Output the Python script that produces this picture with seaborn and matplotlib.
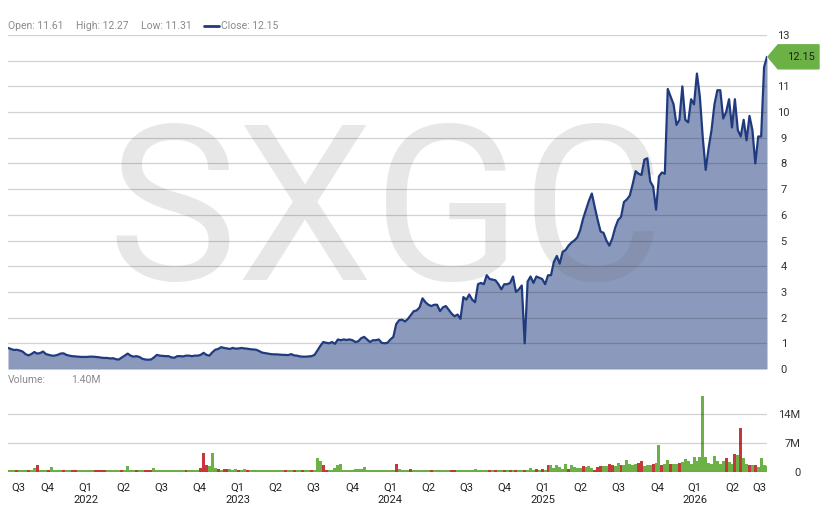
# -*- coding: utf-8 -*-
# SXGC - weekly close and volume

import numpy as np
import pandas as pd
import matplotlib.pyplot as plt
from matplotlib.lines import Line2D
from matplotlib.patches import Polygon
from matplotlib.transforms import ScaledTranslation
import seaborn as sns

# %% datos (semanal)
ticker_name = 'SXGC'
first_week = '2021-08-13'

close = [
    0.82, 0.78, 0.74, 0.75, 0.72, 0.68, 0.58, 0.53, 0.58, 0.66,
    0.60, 0.62, 0.68, 0.58, 0.55, 0.52, 0.52, 0.55, 0.60, 0.61,
    0.55, 0.52, 0.50, 0.49, 0.48, 0.47, 0.47, 0.47, 0.48, 0.48,
    0.47, 0.46, 0.44, 0.43, 0.43, 0.41, 0.42, 0.38, 0.37, 0.45,
    0.52, 0.60, 0.52, 0.48, 0.50, 0.47, 0.40, 0.37, 0.36, 0.37,
    0.45, 0.55, 0.52, 0.51, 0.50, 0.50, 0.45, 0.44, 0.50, 0.50,
    0.49, 0.52, 0.52, 0.50, 0.52, 0.52, 0.55, 0.63, 0.55, 0.52,
    0.65, 0.75, 0.78, 0.85, 0.82, 0.80, 0.78, 0.82, 0.79, 0.80,
    0.82, 0.80, 0.79, 0.77, 0.76, 0.75, 0.70, 0.64, 0.62, 0.60,
    0.58, 0.57, 0.57, 0.56, 0.55, 0.55, 0.54, 0.58, 0.53, 0.52,
    0.49, 0.48, 0.48, 0.49, 0.50, 0.55, 0.72, 0.90, 1.05, 1.02,
    1.00, 1.05, 0.98, 1.15, 1.12, 1.15, 1.13, 1.15, 1.12, 1.05,
    1.08, 1.20, 1.25, 1.15, 1.05, 1.12, 1.12, 1.15, 1.02, 1.00,
    1.02, 1.15, 1.25, 1.75, 1.90, 1.92, 1.85, 1.95, 2.10, 2.25,
    2.28, 2.40, 2.75, 2.60, 2.50, 2.45, 2.50, 2.50, 2.25, 2.40,
    2.45, 2.30, 2.15, 2.05, 2.12, 1.95, 2.80, 2.70, 2.90, 2.70,
    2.60, 3.30, 3.35, 3.30, 3.65, 3.50, 3.48, 3.45, 3.30, 3.10,
    3.30, 3.30, 3.35, 3.60, 3.00, 3.10, 3.25, 1.00, 3.40, 3.60,
    3.35, 3.60, 3.55, 3.50, 3.30, 3.65, 3.65, 4.17, 4.40, 4.10,
    4.56, 4.63, 4.80, 4.92, 5.00, 5.12, 5.40, 5.85, 6.20, 6.55,
    6.83, 6.30, 5.80, 5.35, 5.30, 5.00, 4.80, 5.08, 5.50, 5.80,
    5.92, 6.50, 6.60, 6.75, 7.20, 7.70, 7.60, 7.55, 8.15, 8.20,
    7.30, 7.10, 6.20, 7.50, 7.65, 7.60, 10.90, 10.60, 10.30, 9.50,
    9.70, 11.00, 9.70, 9.60, 10.50, 10.30, 11.50, 10.60, 9.00, 7.75,
    8.60, 9.30, 10.30, 10.85, 10.85, 9.75, 10.00, 10.50, 9.40, 10.50,
    9.30, 9.05, 9.70, 8.90, 9.85, 9.30, 8.00, 9.05, 9.05, 11.75,
    12.15,
]

# volumen en millones
volume = [
    0.4, 0.4, 0.4, 0.4, 0.4, 0.4, 0.4, 0.4, 0.5, 0.9,
    1.6, 0.5, 0.6, 0.6, 0.4, 1.1, 0.6, 0.6, 0.4, 0.4,
    0.4, 0.4, 0.5, 0.5, 0.4, 0.4, 0.4, 0.6, 0.4, 0.4,
    0.4, 0.4, 0.4, 0.4, 0.4, 0.4, 0.4, 0.4, 0.4, 0.4,
    0.4, 1.35, 0.4, 0.4, 0.4, 0.4, 0.4, 0.4, 0.4, 0.4,
    0.9, 0.4, 0.4, 0.4, 0.4, 0.4, 0.4, 0.4, 0.4, 0.4,
    0.4, 0.4, 0.4, 0.4, 0.4, 0.4, 0.9, 4.5, 1.6, 1.4,
    4.5, 1.0, 0.8, 0.5, 0.7, 0.7, 0.8, 0.5, 0.7, 0.5,
    0.5, 0.8, 0.6, 0.4, 0.4, 0.4, 0.4, 0.6, 0.4, 0.6,
    0.4, 0.6, 0.4, 0.4, 0.4, 0.4, 0.4, 0.4, 0.4, 0.4,
    0.4, 0.4, 0.4, 0.4, 0.4, 0.5, 3.3, 2.6, 1.8, 0.6,
    0.4, 0.5, 1.0, 1.7, 2.0, 0.6, 0.6, 0.6, 0.6, 0.8,
    0.8, 0.8, 1.3, 0.4, 0.4, 0.4, 0.4, 0.4, 0.4, 0.6,
    0.4, 0.4, 0.4, 2.0, 0.8, 0.4, 0.5, 0.4, 0.8, 0.4,
    0.6, 0.4, 0.4, 0.4, 0.4, 0.4, 0.4, 0.6, 0.4, 0.4,
    0.4, 0.4, 0.4, 0.4, 0.6, 0.6, 0.4, 0.4, 0.4, 0.4,
    0.7, 0.6, 0.4, 0.4, 0.6, 0.4, 0.4, 0.4, 0.4, 0.5,
    0.4, 0.4, 0.4, 0.4, 0.4, 0.4, 0.5, 0.5, 0.4, 0.9,
    0.5, 0.8, 0.4, 0.7, 0.5, 1.7, 1.7, 1.0, 1.7, 1.2,
    0.8, 2.0, 0.7, 1.7, 1.2, 1.0, 1.0, 1.4, 1.2, 1.35,
    1.0, 0.5, 1.2, 1.4, 1.4, 1.4, 2.0, 1.6, 1.5, 2.2,
    1.75, 1.6, 2.8, 2.0, 1.7, 2.0, 2.2, 2.7, 1.5, 1.6,
    1.75, 2.0, 2.2, 6.5, 1.75, 2.0, 2.8, 2.0, 2.0, 2.0,
    2.2, 2.4, 3.2, 2.6, 2.0, 3.7, 2.6, 3.7, 18.4, 3.7,
    2.2, 2.0, 3.8, 2.7, 2.0, 2.6, 3.4, 2.4, 2.0, 4.4,
    4.1, 10.7, 3.4, 2.0, 1.8, 1.8, 1.8, 1.2, 3.4, 1.75,
    1.4,
]

# g = semana alcista, r = bajista (una fila por cada 10 semanas)
vol_dir = ''.join([
    'gggrgggrgg', 'rgggrggggr', 'ggrrgggggg', 'rrrrgggggr', 'ggggrggrrr',
    'gggggggggg', 'grggggrrrg', 'ggrgrrgggr', 'ggrggggggg', 'gggggrggrg',
    'grggrgggrr', 'gggggggggg', 'gggggggggg', 'gggrggggrg', 'gggggrgggg',
    'ggrrgggggg', 'gggggrgrgg', 'rgrgrggrgg', 'grgrgrgggg', 'ggrggggrgg',
    'grrrggrrgg', 'rgggggrrgg', 'grggrggrgg', 'rggggggggg', 'ggggggrggr',
    'grggrgrggg', 'g',
])

day_open, day_high, day_low = 11.61, 12.27, 11.31

dates = pd.date_range(first_week, periods=len(close), freq='7D')
print(len(close), len(volume), len(vol_dir))

# colores
line_color = '#1f3a7e'
fill_color = '#8b99bd'
up_color = '#6cb146'
down_color = '#c4383b'
text_gray = '#8a8a8a'

# %% figura
sns.set_theme(style='white')
plt.rcParams['font.family'] = ['Roboto', 'DejaVu Sans']

W, H = 833, 516
fig = plt.figure(figsize=(W / 100, H / 100), dpi=100)
ax = fig.add_axes([8 / W, 1 - 369 / H, 759 / W, 334 / H])
axv = fig.add_axes([8 / W, 1 - 472 / H, 759 / W, 80 / H], sharex=ax)

# precio
ax.fill_between(dates, close, 0, color=fill_color, lw=0, zorder=1)
sns.lineplot(x=dates, y=close, ax=ax, color=line_color, lw=1.6, zorder=4)
ax.text(0.497, 0.266, ticker_name, transform=ax.transAxes, ha='center', va='baseline',
        fontsize=157, color='#646464', alpha=0.15, zorder=2)

ax.set_ylim(0, 13)
price_ticks = list(range(0, 14))
ax.set_yticks(price_ticks)
# la etiqueta del ultimo cierre tapa el tick mas cercano
ax.set_yticklabels(['' if abs(v - close[-1]) < 0.6 else str(v) for v in price_ticks])
ax.set_axisbelow(False)
ax.grid(axis='y', color='k', alpha=0.2, lw=0.9)
ax.grid(axis='x', visible=False)
ax.yaxis.tick_right()
ax.tick_params(axis='y', length=0, pad=12, labelsize=8, labelcolor='#333333')
for t in ax.get_yticklabels():
    t.set_horizontalalignment('center')
ax.tick_params(axis='x', bottom=False, labelbottom=False)
ax.set_xlim(dates[0], dates[-1])

# etiqueta del ultimo cierre
tag = ScaledTranslation(1.0, close[-1], ax.get_yaxis_transform())
tag_shape = [(0.01, 0), (0.11, 0.12), (0.52, 0.12), (0.52, -0.12), (0.11, -0.12)]
fig.patches.append(Polygon(tag_shape, closed=True, color=up_color,
                           transform=fig.dpi_scale_trans + tag, clip_on=False))
fig.text(0.34, 0, f'{close[-1]:.2f}', transform=fig.dpi_scale_trans + tag,
         ha='center', va='center', fontsize=8, color='#222222')

# volumen
colors = [up_color if c == 'g' else down_color for c in vol_dir]
axv.bar(dates, np.array(volume) * 1e6, width=7.2, color=colors, lw=0, zorder=1)
axv.set_ylim(0, 19.3e6)
axv.set_yticks([0, 7e6, 14e6])
axv.set_yticklabels(['0', '7M', '14M'])
axv.set_axisbelow(False)
axv.grid(axis='y', color='k', alpha=0.2, lw=0.9)
axv.grid(axis='x', visible=False)
axv.yaxis.tick_right()
axv.tick_params(axis='y', length=0, pad=24, labelsize=8, labelcolor='#333333')
for t in axv.get_yticklabels():
    t.set_horizontalalignment('right')

# trimestres, centrados en la parte visible
q_starts = pd.date_range('2021-07-01', '2026-07-01', freq='QS')
q_pos, q_lab = [], []
for qs in q_starts:
    a = max(qs, dates[0])
    b = min(qs + pd.offsets.QuarterBegin(startingMonth=1), dates[-1])
    q_pos.append(a + (b - a) / 2)
    lab = f'Q{qs.quarter}'
    if qs.quarter == 1:
        lab += f'\n{qs.year}'
    q_lab.append(lab)
axv.set_xticks(q_pos)
axv.set_xticklabels(q_lab)
axv.tick_params(axis='x', length=0, pad=8, labelsize=8, labelcolor='#222222')
axv.set_xlim(dates[0], dates[-1])

for a in (ax, axv):
    for s in a.spines.values():
        s.set_visible(False)
    a.set_xlabel('')
    a.set_ylabel('')

# encabezados
hy = 1 - 26 / H
fig.text(8 / W, hy, f'Open: {day_open:.2f}', fontsize=7.5, color=text_gray, va='center')
fig.text(76 / W, hy, f'High: {day_high:.2f}', fontsize=7.5, color=text_gray, va='center')
fig.text(141 / W, hy, f'Low: {day_low:.2f}', fontsize=7.5, color=text_gray, va='center')
fig.add_artist(Line2D([204 / W, 219 / W], [hy, hy], color=line_color, lw=2,
                      transform=fig.transFigure))
fig.text(221 / W, hy, f'Close: {close[-1]:.2f}', fontsize=7.5, color=text_gray, va='center')

vy = 1 - 380 / H
fig.text(8 / W, vy, 'Volume:', fontsize=7.5, color=text_gray, va='center')
fig.text(71 / W, vy, f'{volume[-1]:.2f}M', fontsize=7.5, color=text_gray, va='center')

fig.savefig('out.png', dpi=100)
